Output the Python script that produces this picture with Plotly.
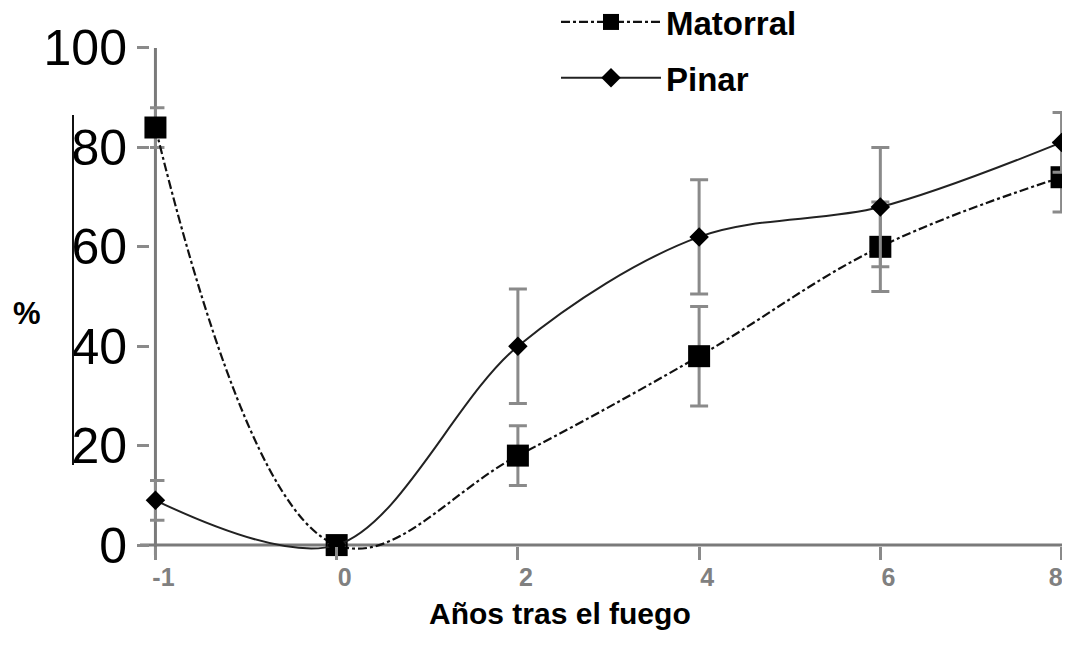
import plotly.graph_objects as go

# ---- data ----
years = ["-1", "0", "2", "4", "6", "8"]
year_labels = ["-1", "0", "2", "4", "6", "8\u00a0\u00a0\u00a0\u00a0"]
matorral = [84, 0, 18, 38, 60, 74]
matorral_err = [4, None, 6, 10, 9, 7]
pinar = [9, 0, 40, 62, 68, 81]
pinar_err = [4, None, 11.5, 11.5, 12, 6]
y_ticks = [0, 20, 40, 60, 80, 100]

FONT = "Liberation Sans, Arial, sans-serif"
OFF = 8  # browser body margin
W, H = 1070 - OFF, 652 - 2 * OFF  # keep page free of scrollbars
# plot area in page pixels: left 150, right 1067, top 43, bottom 560
L = 150 - OFF
T = 43 - OFF
R = W - (1067 - OFF)
B = H - (560 - OFF)
pw = W - L - R
ph = H - T - B


def px2paper_x(px):
    return (px - OFF - L) / pw


def px2paper_y(py):
    return (H - B - (py - OFF)) / ph


fig = go.Figure()

fig.add_trace(go.Scatter(
    x=years, y=matorral, name="Matorral", mode="lines+markers",
    line=dict(color="#111111", width=2.2, dash="dashdot", shape="spline", smoothing=1.1),
    marker=dict(symbol="square", size=22, color="black"),
    error_y=dict(type="data", array=matorral_err, color="#8a8a8a", thickness=3, width=9),
    cliponaxis=False, legendgroup="m",
))
fig.add_trace(go.Scatter(
    x=years, y=pinar, name="Pinar", mode="lines+markers",
    line=dict(color="#222222", width=2, shape="spline", smoothing=0.95),
    marker=dict(symbol="diamond", size=15, color="black"),
    error_y=dict(type="data", array=pinar_err, color="#8a8a8a", thickness=3, width=9),
    cliponaxis=False, legendgroup="p",
))

# stray vertical line left of the axis
fig.add_shape(type="line", xref="paper", yref="paper",
              x0=px2paper_x(73), x1=px2paper_x(73),
              y0=px2paper_y(465), y1=px2paper_y(115),
              line=dict(color="#111111", width=2))
# y axis line at the first category
fig.add_shape(type="line", xref="x", yref="y", x0=0, x1=0, y0=-2, y1=100,
              line=dict(color="#7a7a7a", width=3), layer="below")
# x axis line extending slightly to the left
fig.add_shape(type="line", xref="paper", yref="y", x0=px2paper_x(140), x1=px2paper_x(1067),
              y0=0, y1=0, line=dict(color="#7a7a7a", width=3), layer="below")

fig.add_annotation(text="<b>%</b>", xref="paper", yref="paper",
                   x=px2paper_x(27), y=px2paper_y(313), showarrow=False,
                   xanchor="center", yanchor="middle",
                   font=dict(family=FONT, size=31, color="black"))
fig.add_annotation(text="<b>Años tras el fuego</b>", xref="paper", yref="paper",
                   x=px2paper_x(560), y=px2paper_y(632), showarrow=False,
                   font=dict(family=FONT, size=30, color="black"))

fig.update_layout(
    width=W, height=H,
    margin=dict(l=L, r=R, t=T, b=B, autoexpand=False),
    paper_bgcolor="white", plot_bgcolor="white",
    font=dict(family=FONT, color="black"),
    showlegend=True,
    legend=dict(x=px2paper_x(556), y=px2paper_y(-6), xanchor="left", yanchor="top",
                font=dict(family=FONT, size=33, color="black", weight="bold"),
                itemwidth=100, tracegroupgap=10, bgcolor="rgba(0,0,0,0)"),
    xaxis=dict(type="category", range=[-0.03, 5.03], showgrid=False, zeroline=False,
               showline=False, ticks="inside", ticklen=13, tickwidth=3, tickcolor="#8a8a8a",
               tickmode="array", tickvals=years, ticktext=year_labels,
               tickfont=dict(family=FONT, size=25, color="#808080", weight="bold"),
               ticklabelshift=8, ticklabelstandoff=0, ticklabeloverflow="allow"),
    yaxis=dict(range=[-3, 101], tickvals=y_ticks, showgrid=False, zeroline=False,
               showline=False, ticks="outside", ticklen=12, tickwidth=3, tickcolor="#8a8a8a",
               tickfont=dict(family=FONT, size=50, color="black")),
)

fig.write_html("out.html")
